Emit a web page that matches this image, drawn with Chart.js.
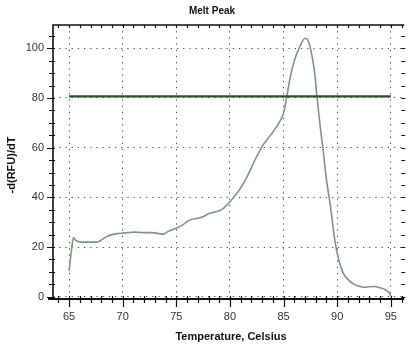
<!DOCTYPE html>
<html>
<head>
<meta charset="utf-8">
<script src="https://cdn.jsdelivr.net/npm/chart.js@4.4.0/dist/chart.umd.min.js"></script>
<style>
  html, body { margin: 0; padding: 0; background: #ffffff; }
  #wrap { width: 408px; height: 349px; position: relative; }
</style>
</head>
<body>
<div id="wrap"><canvas id="c" width="408" height="349"></canvas></div>
<script>
// ---- data ----
const chartTitle = "Melt Peak";
const xTitle = "Temperature, Celsius";
const yTitle = "-d(RFU)/dT";
const temperatures = [65.0, 65.2, 65.4, 65.6, 66.0, 66.5, 67.0, 67.6, 68.0, 68.5, 69.0, 69.5, 70.0, 70.5, 71.0, 71.5, 72.0, 72.5, 73.0, 73.5, 73.8, 74.2, 74.6, 75.0, 75.6, 76.0, 76.4, 77.0, 77.5, 78.0, 78.5, 79.0, 79.5, 80.0, 80.5, 81.0, 81.5, 82.0, 82.5, 83.0, 83.5, 84.0, 84.5, 85.0, 85.3, 85.6, 86.0, 86.5, 87.0, 87.3, 87.6, 87.9, 88.1, 88.4, 88.7, 89.0, 89.35, 89.7, 90.0, 90.3, 90.6, 91.0, 91.5, 92.0, 92.5, 93.0, 93.5, 94.0, 94.5, 94.8, 95.0];
const meltValues = [10.5, 18, 23.8, 22.8, 22.1, 22.0, 22.0, 22.0, 22.8, 24.2, 25.0, 25.4, 25.6, 25.8, 26.0, 25.9, 25.8, 25.8, 25.7, 25.3, 25.2, 26.2, 27.0, 27.6, 28.9, 30.3, 31.1, 31.6, 32.2, 33.4, 34.0, 34.6, 36.0, 38.3, 40.8, 43.8, 47.5, 52, 56.5, 60.5, 63.5, 66.3, 69.5, 74.0, 80.5, 88, 95, 100.5, 104, 103, 98, 90, 81, 69, 58.5, 47, 37, 25, 17.5, 12.5, 9.2, 7, 5.2, 4.3, 3.8, 4.0, 4.1, 3.6, 2.8, 1.8, 0.3];
const thresholdTemps = [65, 95];
const thresholdValues = [80.6, 80.6];
const xTickValues = [65, 70, 75, 80, 85, 90, 95];
const yTickValues = [0, 20, 40, 60, 80, 100];

const curvePoints = temperatures.map((t, i) => ({x: t, y: meltValues[i]}));
const thresholdPoints = thresholdTemps.map((t, i) => ({x: t, y: thresholdValues[i]}));

const framePlugin = {
  id: 'frame',
  afterDraw(chart) {
    const ctx = chart.ctx;
    const a = chart.chartArea;
    const xs = chart.scales.x, ys = chart.scales.y;
    ctx.save();
    ctx.strokeStyle = '#111';
    // frame
    ctx.lineWidth = 1.6;
    ctx.beginPath();
    ctx.moveTo(a.left, a.bottom); ctx.lineTo(a.left, a.top); ctx.lineTo(a.right, a.top);
    ctx.stroke();
    ctx.lineWidth = 2;
    ctx.beginPath(); ctx.moveTo(a.left - 5, a.bottom); ctx.lineTo(a.right, a.bottom); ctx.stroke();
    // x ticks (every degree) on bottom and top
    ctx.lineWidth = 1.2;
    for (let t = Math.ceil(xs.min); t <= xs.max; t++) {
      const px = Math.round(xs.getPixelForValue(t)) + 0.5;
      const major = t % 5 === 0;
      ctx.beginPath();
      ctx.moveTo(px, a.bottom - 3);
      ctx.lineTo(px, a.bottom + (major ? 8 : 4));
      ctx.moveTo(px, a.top);
      ctx.lineTo(px, a.top + 3);
      ctx.stroke();
    }
    // y ticks every 5 on left and right
    for (let v = 0; v <= ys.max; v += 5) {
      const py = Math.round(ys.getPixelForValue(v)) + 0.5;
      const major = v % 20 === 0;
      ctx.beginPath();
      ctx.moveTo(a.left - (major ? 6 : 4), py);
      ctx.lineTo(a.left + 2, py);
      ctx.moveTo(a.right + 1, py);
      ctx.lineTo(a.right - 3, py);
      ctx.stroke();
    }
    // titles
    ctx.fillStyle = '#111';
    ctx.textAlign = 'center';
    ctx.textBaseline = 'middle';
    ctx.font = 'bold 10px "Liberation Sans", Arial, sans-serif';
    ctx.fillText(chartTitle, 212, 11);
    ctx.font = 'bold 11px "Liberation Sans", Arial, sans-serif';
    ctx.fillText(xTitle, 231, 337);
    ctx.save();
    ctx.translate(12, 165);
    ctx.rotate(-Math.PI / 2);
    ctx.fillText(yTitle, 0, 0);
    ctx.restore();
    ctx.restore();
  }
};

new Chart(document.getElementById('c'), {
  type: 'scatter',
  data: {
    datasets: [
      {
        data: thresholdPoints,
        showLine: true,
        borderColor: '#1f5a1f',
        borderWidth: 2.2,
        pointRadius: 0,
        order: 1
      },
      {
        data: curvePoints,
        showLine: true,
        borderColor: '#7a987a',
        borderWidth: 1.6,
        pointRadius: 0,
        tension: 0.4,
        cubicInterpolationMode: 'monotone',
        order: 2
      }
    ]
  },
  options: {
    responsive: false,
    animation: false,
    layout: { padding: { left: 0, top: 25, right: 1, bottom: 0 } },
    plugins: { legend: { display: false }, tooltip: { enabled: false }, title: { display: false } },
    scales: {
      x: {
        type: 'linear',
        min: 63.5,
        max: 96.25,
        afterBuildTicks: (s) => { s.ticks = xTickValues.map(v => ({value: v})); },
        afterFit: (s) => { s.height = 50; },
        grid: { color: '#444', lineWidth: 1, drawTicks: false },
        border: { display: false, dash: [1.2, 5] },
        ticks: { color: '#333', padding: 11, maxRotation: 0, font: { family: '"Liberation Sans", Arial, sans-serif', size: 11 } }
      },
      y: {
        type: 'linear',
        min: -0.9,
        max: 109.35,
        afterBuildTicks: (s) => { s.ticks = yTickValues.map(v => ({value: v})); },
        afterFit: (s) => { s.width = 53; },
        grid: { color: '#444', lineWidth: 1, drawTicks: false },
        border: { display: false, dash: [1.2, 5] },
        ticks: { color: '#333', padding: 9, font: { family: '"Liberation Sans", Arial, sans-serif', size: 11 } }
      }
    }
  },
  plugins: [framePlugin]
});
</script>
</body>
</html>
